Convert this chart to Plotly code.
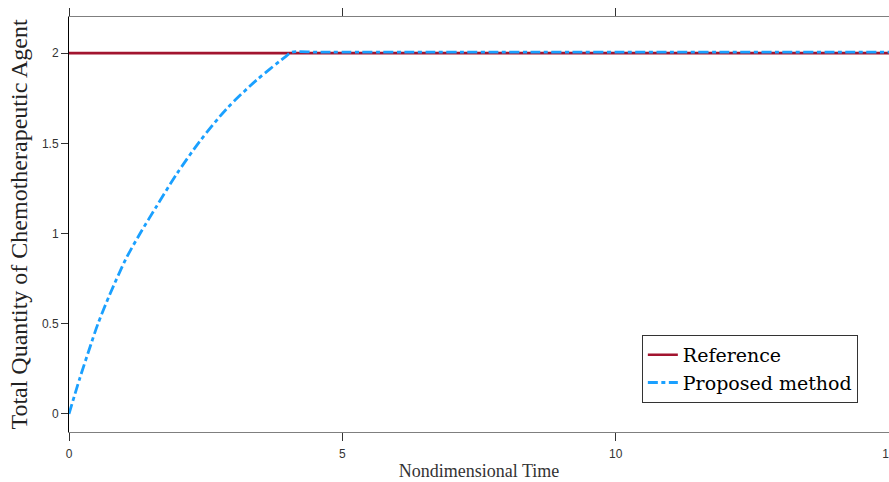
import plotly.graph_objects as go

# Data
ref_t = [0, 15]
ref_q = [2.0, 2.0]

prop_t = [0, 0.20, 0.40, 0.53, 0.75, 1.05, 1.30, 1.60, 1.97, 2.39, 2.88, 3.43, 3.98, 4.07, 4.6, 15]
prop_q = [0, 0.200, 0.385, 0.50, 0.665, 0.865, 1.00, 1.15, 1.33, 1.51, 1.69, 1.85, 1.985, 2.005, 2.005, 2.005]

x_ticks = [0, 5, 10, 15]
y_ticks = [0, 0.5, 1, 1.5, 2]

serif = "Liberation Serif, DejaVu Serif, serif"
sans = "Liberation Sans, Arial, sans-serif"

fig = go.Figure()
fig.add_trace(go.Scatter(x=ref_t, y=ref_q, mode="lines", name="Reference",
                         line=dict(color="#A2142F", width=2.6)))
fig.add_trace(go.Scatter(x=prop_t, y=prop_q, mode="lines", name="Proposed method",
                         line=dict(color="#1AA0FF", width=2.8, dash="10px,3.5px,4px,3.5px",
                                   shape="spline", smoothing=0.8)))

fig.update_layout(
    width=889, height=482,
    margin=dict(l=69, r=0, t=17, b=50),
    paper_bgcolor="white", plot_bgcolor="white",
    showlegend=True,
    legend=dict(x=0.962, y=0.07, xanchor="right", yanchor="bottom",
                bgcolor="white", bordercolor="#333333", borderwidth=1,
                font=dict(family="DejaVu Serif, serif", size=19, color="black"),
                tracegroupgap=0, itemwidth=30),
    xaxis=dict(range=[0, 15], tickvals=x_ticks, ticktext=[str(v) for v in x_ticks],
               automargin=False, ticklabeloverflow="allow",
               showgrid=False, zeroline=False, showline=True, linecolor="#7f7f7f", linewidth=1,
               mirror="ticks", ticks="outside", ticklen=8, tickcolor="#333333",
               ticklabelstandoff=3,
               tickfont=dict(family=sans, size=12, color="#333333"),
               title=dict(text="Nondimensional Time", font=dict(family=serif, size=18, color="#333333"),
                          standoff=3)),
    yaxis=dict(range=[-0.1, 2.2], tickvals=y_ticks, ticktext=["0", "0.5", "1", "1.5", "2"],
               automargin=False,
               showgrid=False, zeroline=False, showline=True, linecolor="black", linewidth=1,
               ticks="outside", ticklen=7, tickcolor="#333333",
               tickfont=dict(family=sans, size=12, color="#333333"),
               title=dict(text="Total Quantity of Chemotherapeutic Agent",
                          font=dict(family=serif, size=24, color="#222222"), standoff=7)),
)

fig.write_html("out.html", config={"displayModeBar": False},
               post_script="document.body.style.margin='0';document.body.style.overflow='hidden';")
